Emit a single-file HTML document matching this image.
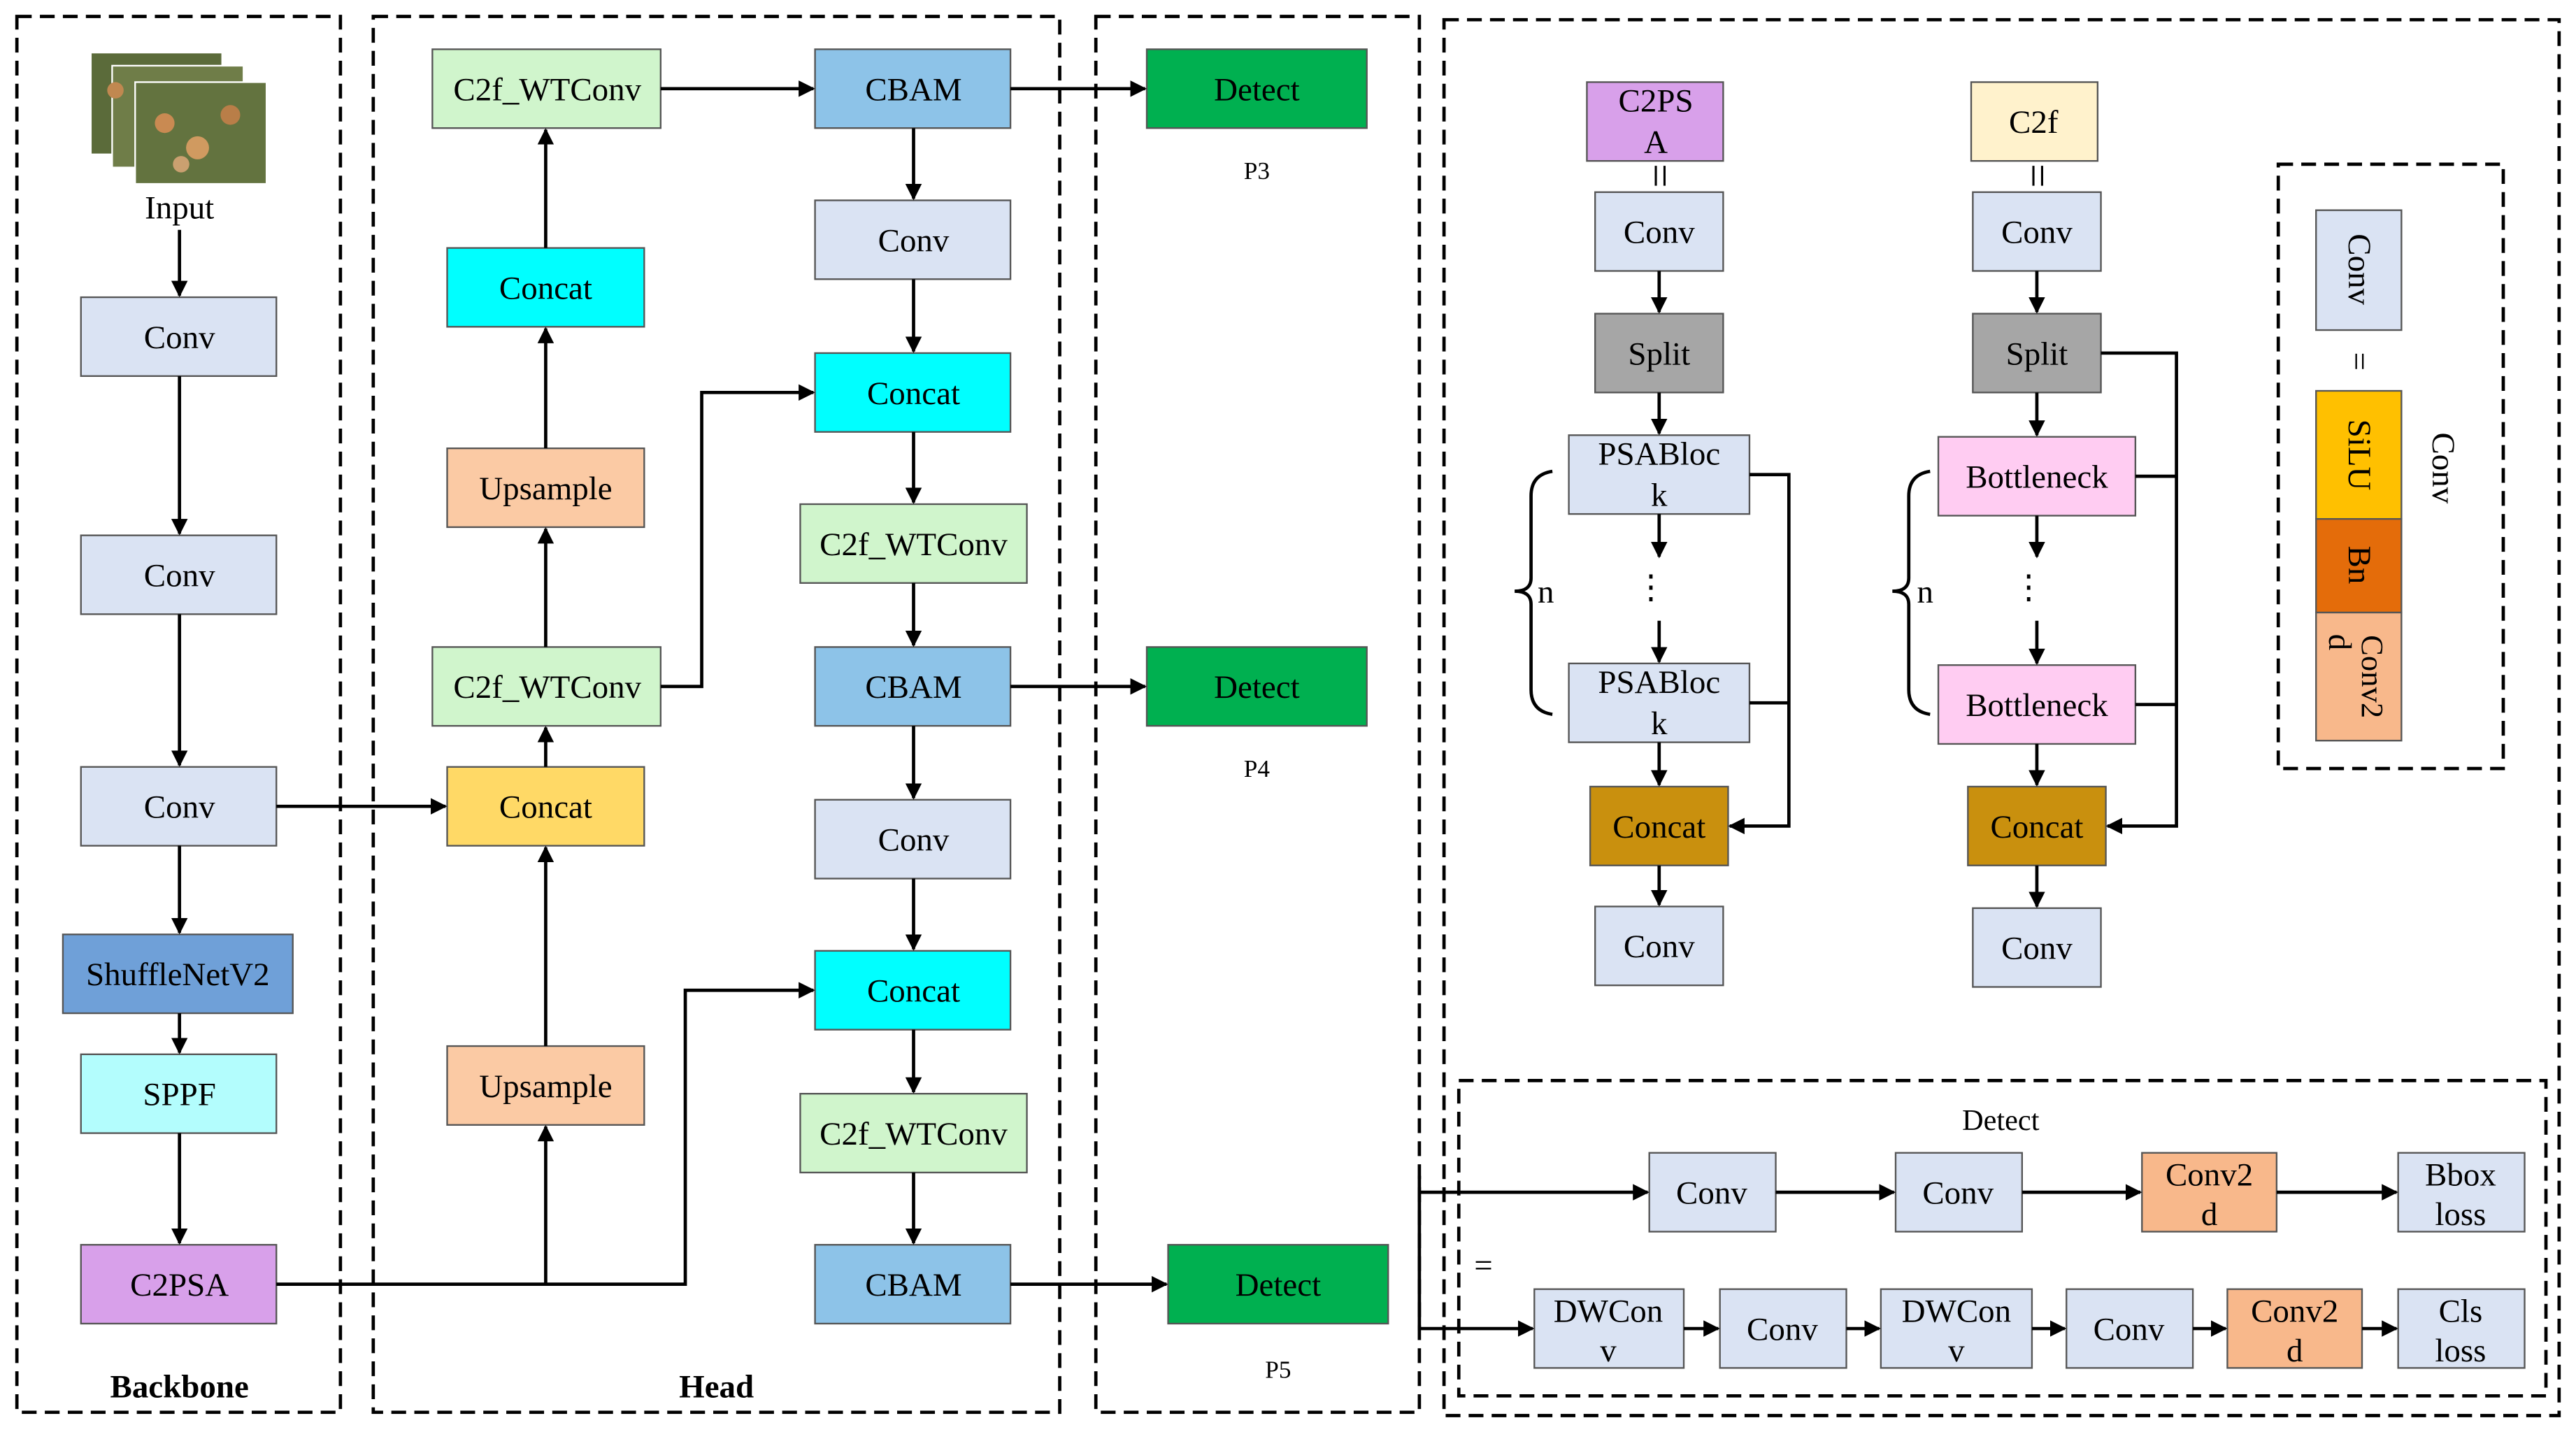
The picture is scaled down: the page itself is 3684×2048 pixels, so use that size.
<!DOCTYPE html>
<html><head><meta charset="utf-8"><style>
html,body{margin:0;padding:0;background:#fff;}
svg{display:block;}
text{font-family:"Liberation Serif",serif;font-size:20px;fill:#000;}
</style></head><body>
<svg width="3684" height="2048" viewBox="0 0 1568 872" xmlns="http://www.w3.org/2000/svg">
<defs>
<marker id="a" markerWidth="10" markerHeight="10" refX="9" refY="5" orient="auto" markerUnits="userSpaceOnUse">
<path d="M0,0 L10,5 L0,10 Z" fill="#000"/></marker>
</defs>
<g fill="none" stroke="#000" stroke-width="2" stroke-dasharray="9,5">
<rect x="10" y="10" width="197" height="850"/>
<rect x="227" y="10" width="418" height="850"/>
<rect x="667" y="10" width="197" height="850"/>
<rect x="879" y="12" width="679" height="850"/>
<rect x="1387" y="100" width="137" height="368"/>
<rect x="888" y="658" width="662" height="192"/>
</g>
<g>
<rect x="55" y="32" width="80" height="62" fill="#5b6b3a" stroke="#fff"/>
<rect x="68" y="40" width="80" height="62" fill="#6f7d48" stroke="#fff"/>
<rect x="82" y="50" width="80" height="62" fill="#63733f" stroke="#fff"/>
<circle cx="100" cy="75" r="6" fill="#c98a52"/><circle cx="120" cy="90" r="7" fill="#d09a60"/>
<circle cx="140" cy="70" r="6" fill="#b97e48"/><circle cx="110" cy="100" r="5" fill="#caa070"/>
<circle cx="70" cy="55" r="5" fill="#c08850"/>
</g>
<text x="109" y="133" text-anchor="middle">Input</text>
<text x="109" y="851" text-anchor="middle" font-weight="bold">Backbone</text>
<text x="436" y="851" text-anchor="middle" font-weight="bold">Head</text>

<g stroke="#555" stroke-width="1">
<rect x="49" y="181" width="119" height="48" fill="#dae3f3"/>
<rect x="49" y="326" width="119" height="48" fill="#dae3f3"/>
<rect x="49" y="467" width="119" height="48" fill="#dae3f3"/>
<rect x="38" y="569" width="140" height="48" fill="#6fa0d8"/>
<rect x="49" y="642" width="119" height="48" fill="#b3fdfd"/>
<rect x="49" y="758" width="119" height="48" fill="#d8a0ea"/>
<rect x="263" y="30" width="139" height="48" fill="#d0f5cc"/>
<rect x="272" y="151" width="120" height="48" fill="#00ffff"/>
<rect x="272" y="273" width="120" height="48" fill="#fbcaa4"/>
<rect x="263" y="394" width="139" height="48" fill="#d0f5cc"/>
<rect x="272" y="467" width="120" height="48" fill="#ffd966"/>
<rect x="272" y="637" width="120" height="48" fill="#fbcaa4"/>
<rect x="496" y="30" width="119" height="48" fill="#8dc3e8"/>
<rect x="496" y="122" width="119" height="48" fill="#dae3f3"/>
<rect x="496" y="215" width="119" height="48" fill="#00ffff"/>
<rect x="487" y="307" width="138" height="48" fill="#d0f5cc"/>
<rect x="496" y="394" width="119" height="48" fill="#8dc3e8"/>
<rect x="496" y="487" width="119" height="48" fill="#dae3f3"/>
<rect x="496" y="579" width="119" height="48" fill="#00ffff"/>
<rect x="487" y="666" width="138" height="48" fill="#d0f5cc"/>
<rect x="496" y="758" width="119" height="48" fill="#8dc3e8"/>
<rect x="698" y="30" width="134" height="48" fill="#00b050"/>
<rect x="698" y="394" width="134" height="48" fill="#00b050"/>
<rect x="711" y="758" width="134" height="48" fill="#00b050"/>
<rect x="966" y="50" width="83" height="48" fill="#d8a0ea"/>
<rect x="971" y="117" width="78" height="48" fill="#dae3f3"/>
<rect x="971" y="191" width="78" height="48" fill="#a6a6a6"/>
<rect x="955" y="265" width="110" height="48" fill="#dae3f3"/>
<rect x="955" y="404" width="110" height="48" fill="#dae3f3"/>
<rect x="968" y="479" width="84" height="48" fill="#c9900e"/>
<rect x="971" y="552" width="78" height="48" fill="#dae3f3"/>
<rect x="1200" y="50" width="77" height="48" fill="#fff2cc"/>
<rect x="1201" y="117" width="78" height="48" fill="#dae3f3"/>
<rect x="1201" y="191" width="78" height="48" fill="#a6a6a6"/>
<rect x="1180" y="266" width="120" height="48" fill="#ffccf2"/>
<rect x="1180" y="405" width="120" height="48" fill="#ffccf2"/>
<rect x="1198" y="479" width="84" height="48" fill="#c9900e"/>
<rect x="1201" y="553" width="78" height="48" fill="#dae3f3"/>
<rect x="1410" y="128" width="52" height="73" fill="#dae3f3"/>
<rect x="1410" y="238" width="52" height="78" fill="#ffc000"/>
<rect x="1410" y="316" width="52" height="57" fill="#e46c0a"/>
<rect x="1410" y="373" width="52" height="78" fill="#f8b88b"/>
<rect x="1004" y="702" width="77" height="48" fill="#dae3f3"/>
<rect x="1154" y="702" width="77" height="48" fill="#dae3f3"/>
<rect x="1304" y="702" width="82" height="48" fill="#f8b88b"/>
<rect x="1460" y="702" width="77" height="48" fill="#dae3f3"/>
<rect x="934" y="785" width="91" height="48" fill="#dae3f3"/>
<rect x="1047" y="785" width="77" height="48" fill="#dae3f3"/>
<rect x="1145" y="785" width="92" height="48" fill="#dae3f3"/>
<rect x="1258" y="785" width="77" height="48" fill="#dae3f3"/>
<rect x="1356" y="785" width="82" height="48" fill="#f8b88b"/>
<rect x="1460" y="785" width="77" height="48" fill="#dae3f3"/>
</g>

<g text-anchor="middle">
<text x="109" y="212">Conv</text>
<text x="109" y="357">Conv</text>
<text x="109" y="498">Conv</text>
<text x="108" y="600">ShuffleNetV2</text>
<text x="109" y="673">SPPF</text>
<text x="109" y="789">C2PSA</text>
<text x="333" y="61">C2f_WTConv</text>
<text x="332" y="182">Concat</text>
<text x="332" y="304">Upsample</text>
<text x="333" y="425">C2f_WTConv</text>
<text x="332" y="498">Concat</text>
<text x="332" y="668">Upsample</text>
<text x="556" y="61">CBAM</text>
<text x="556" y="153">Conv</text>
<text x="556" y="246">Concat</text>
<text x="556" y="338">C2f_WTConv</text>
<text x="556" y="425">CBAM</text>
<text x="556" y="518">Conv</text>
<text x="556" y="610">Concat</text>
<text x="556" y="697">C2f_WTConv</text>
<text x="556" y="789">CBAM</text>
<text x="765" y="61">Detect</text>
<text x="765" y="425">Detect</text>
<text x="778" y="789">Detect</text>
<text x="765" y="109" style="font-size:15px">P3</text>
<text x="765" y="473" style="font-size:15px">P4</text>
<text x="778" y="839" style="font-size:15px">P5</text>

<text x="1008" y="68">C2PS</text>
<text x="1008" y="93">A</text>
<text x="1010" y="148">Conv</text>
<text x="1010" y="222">Split</text>
<text x="1010" y="283">PSABloc</text>
<text x="1010" y="308">k</text>
<text x="1010" y="422">PSABloc</text>
<text x="1010" y="447">k</text>
<text x="1010" y="510">Concat</text>
<text x="1010" y="583">Conv</text>
<text x="1238" y="81">C2f</text>
<text x="1240" y="148">Conv</text>
<text x="1240" y="222">Split</text>
<text x="1240" y="297">Bottleneck</text>
<text x="1240" y="436">Bottleneck</text>
<text x="1240" y="510">Concat</text>
<text x="1240" y="584">Conv</text>
<text x="1005" y="364">⋮</text>
<text x="1235" y="364">⋮</text>
<text x="941" y="367">n</text>
<text x="1172" y="367">n</text>

<text x="1218" y="688" style="font-size:18px">Detect</text>
<text x="1042" y="733">Conv</text>
<text x="1192" y="733">Conv</text>
<text x="1345" y="722">Conv2</text>
<text x="1345" y="746">d</text>
<text x="1498" y="722">Bbox</text>
<text x="1498" y="746">loss</text>
<text x="979" y="805">DWCon</text>
<text x="979" y="829">v</text>
<text x="1085" y="816">Conv</text>
<text x="1191" y="805">DWCon</text>
<text x="1191" y="829">v</text>
<text x="1296" y="816">Conv</text>
<text x="1397" y="805">Conv2</text>
<text x="1397" y="829">d</text>
<text x="1498" y="805">Cls</text>
<text x="1498" y="829">loss</text>
<text x="903" y="777">=</text>
</g>
<g text-anchor="middle">
<text transform="translate(1430,164) rotate(90)">Conv</text>
<text transform="translate(1430,220) rotate(90)">=</text>
<text transform="translate(1430,277) rotate(90)">SiLU</text>
<text transform="translate(1430,344) rotate(90)">Bn</text>
<text transform="translate(1438,412) rotate(90)" style="font-size:19px">Conv2</text>
<text transform="translate(1418,391) rotate(90)">d</text>
<text transform="translate(1481,285) rotate(90)">Conv</text>
<text transform="translate(1002,107) rotate(90)" style="font-size:26px">=</text>
<text transform="translate(1232,107) rotate(90)" style="font-size:26px">=</text>
</g>

<g fill="none" stroke="#000" stroke-width="2">
<path d="M945,287 Q932,289 932,302 L932,352 Q932,360 922,360 Q932,360 932,368 L932,420 Q932,433 945,435"/>
<path d="M1175,287 Q1162,289 1162,302 L1162,352 Q1162,360 1152,360 Q1162,360 1162,368 L1162,420 Q1162,433 1175,435"/>
</g>

<g fill="none" stroke="#000" stroke-width="2" marker-end="url(#a)">
<line x1="109" y1="140" x2="109" y2="180"/>
<line x1="109" y1="229" x2="109" y2="325"/>
<line x1="109" y1="374" x2="109" y2="466"/>
<line x1="109" y1="515" x2="109" y2="568"/>
<line x1="109" y1="617" x2="109" y2="641"/>
<line x1="109" y1="690" x2="109" y2="757"/>
<line x1="168" y1="491" x2="271" y2="491"/>
<polyline points="168,782 417,782 417,603 495,603"/>
<line x1="332" y1="782" x2="332" y2="686"/>
<line x1="332" y1="637" x2="332" y2="516"/>
<line x1="332" y1="467" x2="332" y2="443"/>
<line x1="332" y1="394" x2="332" y2="322"/>
<line x1="332" y1="273" x2="332" y2="200"/>
<line x1="332" y1="151" x2="332" y2="79"/>
<polyline points="402,418 427,418 427,239 495,239"/>
<line x1="402" y1="54" x2="495" y2="54"/>
<line x1="615" y1="54" x2="697" y2="54"/>
<line x1="615" y1="418" x2="697" y2="418"/>
<line x1="615" y1="782" x2="710" y2="782"/>
<line x1="556" y1="78" x2="556" y2="121"/>
<line x1="556" y1="170" x2="556" y2="214"/>
<line x1="556" y1="263" x2="556" y2="306"/>
<line x1="556" y1="355" x2="556" y2="393"/>
<line x1="556" y1="442" x2="556" y2="486"/>
<line x1="556" y1="535" x2="556" y2="578"/>
<line x1="556" y1="627" x2="556" y2="665"/>
<line x1="556" y1="714" x2="556" y2="757"/>
<line x1="1010" y1="165" x2="1010" y2="190"/>
<line x1="1010" y1="239" x2="1010" y2="264"/>
<line x1="1010" y1="313" x2="1010" y2="339"/>
<line x1="1010" y1="378" x2="1010" y2="403"/>
<line x1="1010" y1="452" x2="1010" y2="478"/>
<line x1="1010" y1="527" x2="1010" y2="551"/>
<polyline points="1065,289 1089,289 1089,503 1053,503"/>
<line x1="1240" y1="165" x2="1240" y2="190"/>
<line x1="1240" y1="239" x2="1240" y2="265"/>
<line x1="1240" y1="314" x2="1240" y2="339"/>
<line x1="1240" y1="378" x2="1240" y2="404"/>
<line x1="1240" y1="453" x2="1240" y2="478"/>
<line x1="1240" y1="527" x2="1240" y2="552"/>
<polyline points="1279,215 1325,215 1325,503 1283,503"/>
<line x1="864" y1="726" x2="1003" y2="726"/>
<polyline points="864,716 864,809 933,809"/>
<line x1="1081" y1="726" x2="1153" y2="726"/>
<line x1="1231" y1="726" x2="1303" y2="726"/>
<line x1="1386" y1="726" x2="1459" y2="726"/>
<line x1="1025" y1="809" x2="1046" y2="809"/>
<line x1="1124" y1="809" x2="1144" y2="809"/>
<line x1="1237" y1="809" x2="1257" y2="809"/>
<line x1="1335" y1="809" x2="1355" y2="809"/>
<line x1="1438" y1="809" x2="1459" y2="809"/>
</g>
<g stroke="#000" stroke-width="2">
<line x1="1065" y1="428" x2="1089" y2="428"/>
<line x1="1300" y1="290" x2="1325" y2="290"/>
<line x1="1300" y1="429" x2="1325" y2="429"/>
</g>
</svg>
</body></html>
